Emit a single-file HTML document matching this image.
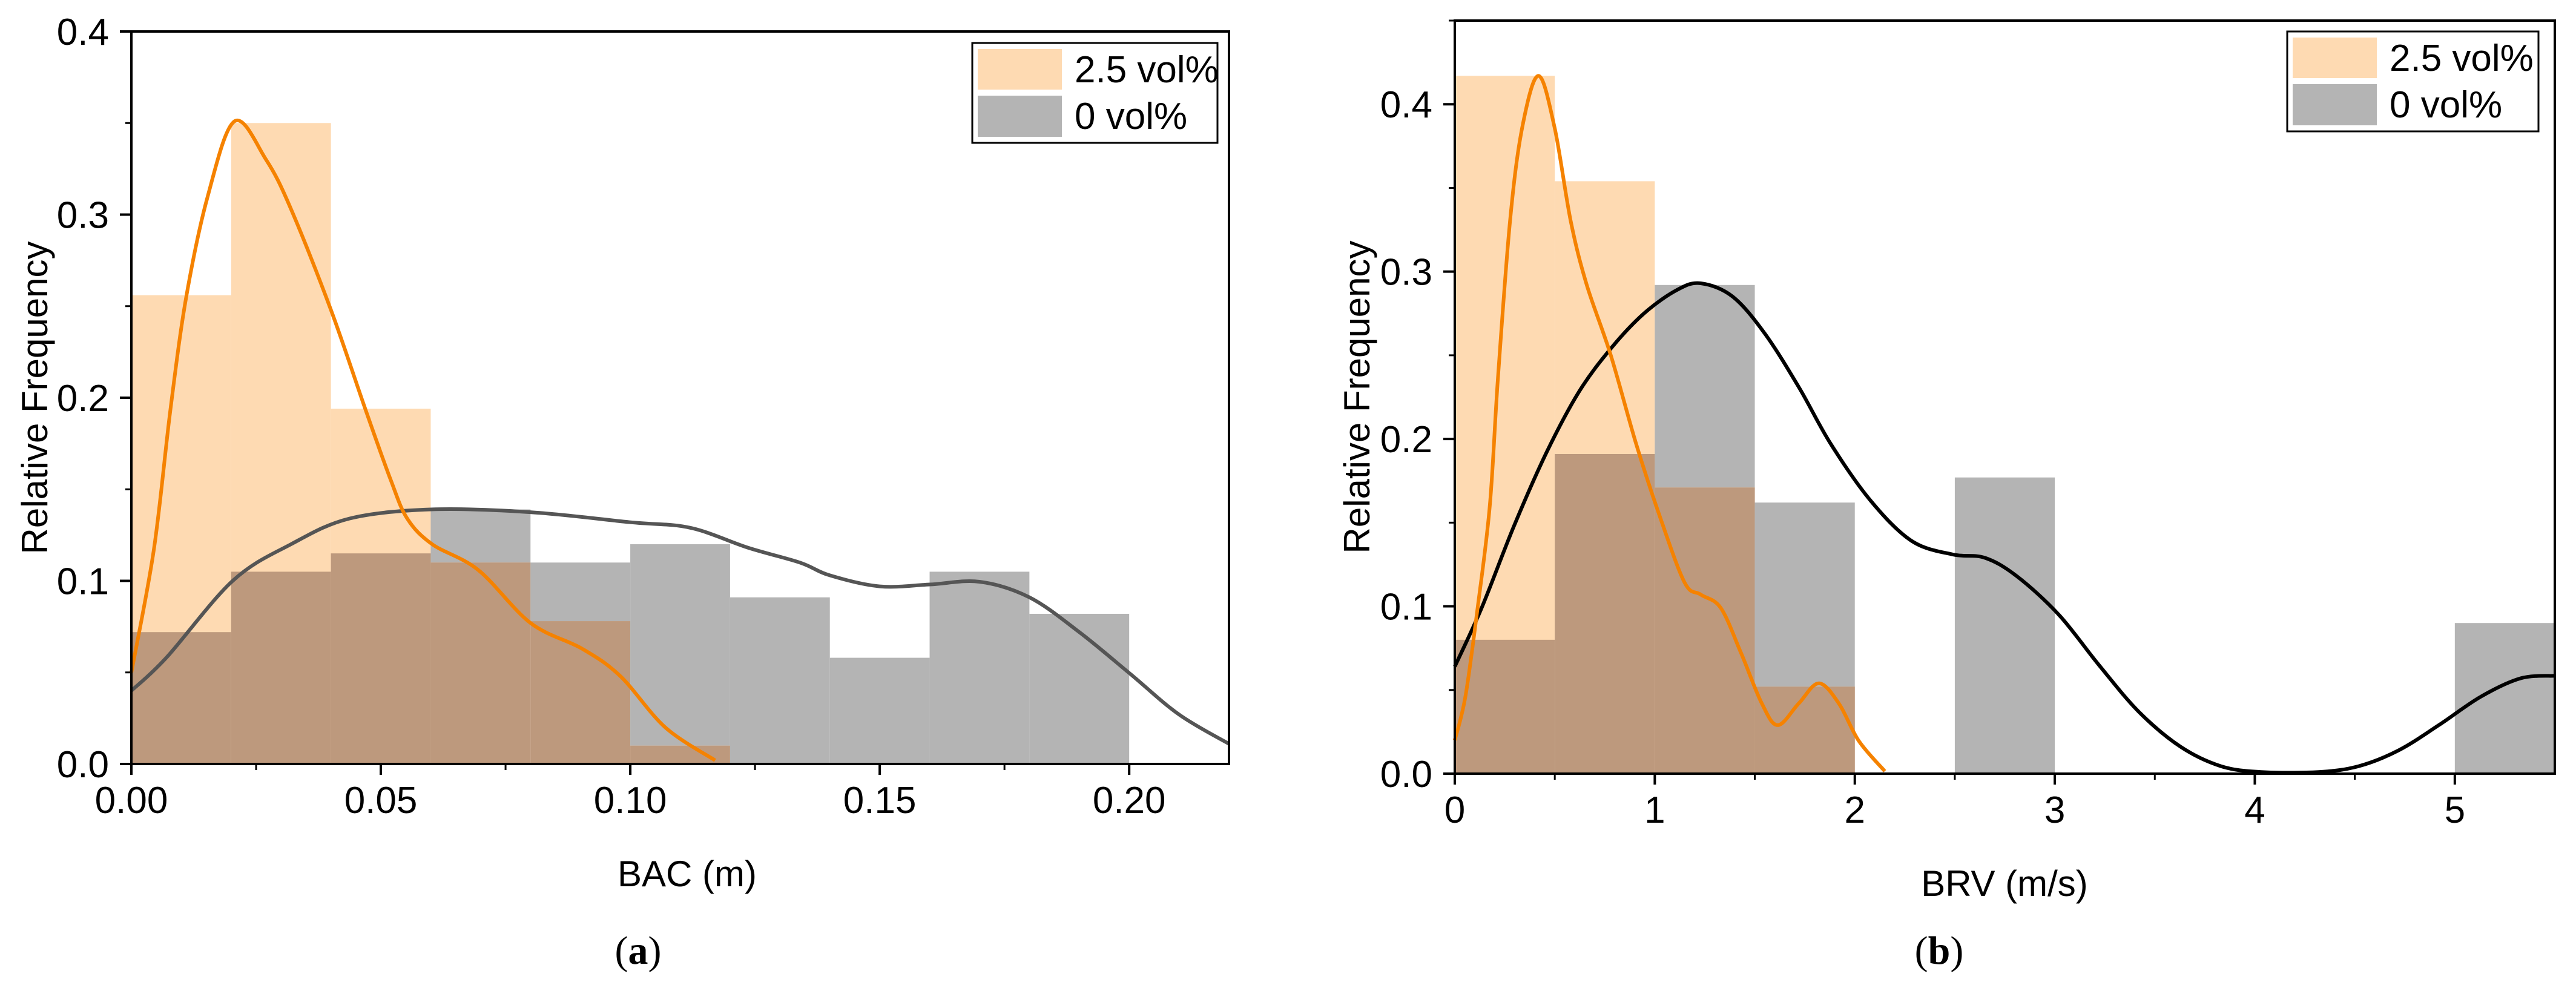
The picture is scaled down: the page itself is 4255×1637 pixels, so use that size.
<!DOCTYPE html>
<html><head><meta charset="utf-8"><style>
html,body{margin:0;padding:0;background:#fff;}
svg{display:block;font-family:"Liberation Sans",sans-serif;}
</style></head><body>
<svg id="fig" width="4255" height="1637" viewBox="0 0 4255 1637" xmlns="http://www.w3.org/2000/svg"></svg>
<script>
// ---- Panel (a) data ----
const aBinEdges = [0,0.02,0.04,0.06,0.08,0.10,0.12,0.14,0.16,0.18,0.20];
const aPeach = [0.256,0.350,0.194,0.110,0.078,0.010,0,0,0,0];
const aGray  = [0.072,0.105,0.115,0.139,0.110,0.120,0.091,0.058,0.105,0.082];
const aOrangeX = [0,0.0045,0.0078,0.011,0.0153,0.0207,0.027,0.032,0.040,0.047,0.052,0.0553,0.0603,0.0695,0.080,0.0903,0.098,0.107,0.117];
const aOrangeY = [0.05,0.117,0.193,0.255,0.31,0.351,0.33,0.303,0.248,0.193,0.155,0.134,0.12,0.106,0.077,0.063,0.048,0.020,0.002];
const aGrayX = [0,0.007,0.0203,0.032,0.0437,0.060,0.080,0.10,0.112,0.1237,0.134,0.14,0.150,0.160,0.170,0.180,0.19,0.2003,0.210,0.22];
const aGrayY = [0.04,0.058,0.10,0.12,0.134,0.139,0.1375,0.132,0.129,0.118,0.11,0.103,0.097,0.098,0.0995,0.091,0.072,0.049,0.027,0.011];
const aXTicks = [0,0.05,0.10,0.15,0.20];
const aXTickLabels = ["0.00","0.05","0.10","0.15","0.20"];
const aYTicks = [0,0.1,0.2,0.3,0.4];
const aYTickLabels = ["0.0","0.1","0.2","0.3","0.4"];
// ---- Panel (b) data ----
const bBinEdges = [0,0.5,1,1.5,2,2.5,3,3.5,4,4.5,5,5.5];
const bPeach = [0.417,0.354,0.171,0.052,0,0,0,0,0,0,0];
const bGray  = [0.080,0.191,0.292,0.162,0,0.177,0,0,0,0,0.090];
const bOrangeX = [0,0.053,0.114,0.175,0.215,0.276,0.337,0.418,0.499,0.58,0.66,0.78,0.907,1.03,1.15,1.23,1.33,1.43,1.535,1.615,1.72,1.82,1.92,2.02,2.15];
const bOrangeY = [0.02,0.046,0.099,0.16,0.235,0.33,0.386,0.417,0.386,0.33,0.292,0.25,0.197,0.152,0.114,0.107,0.099,0.0725,0.042,0.029,0.042,0.054,0.042,0.0196,0.0015];
const bBlackX = [0,0.134,0.296,0.459,0.62,0.78,0.946,1.11,1.23,1.39,1.55,1.72,1.88,2.08,2.285,2.49,2.65,2.81,3.02,3.22,3.42,3.63,3.83,4.03,4.32,4.52,4.72,4.92,5.13,5.33,5.5];
const bBlackY = [0.064,0.099,0.148,0.192,0.228,0.254,0.275,0.289,0.293,0.285,0.263,0.231,0.197,0.163,0.139,0.131,0.129,0.118,0.095,0.065,0.037,0.016,0.0045,0.001,0.001,0.0045,0.014,0.029,0.046,0.057,0.0585];
const bXTicks = [0,1,2,3,4,5];
const bXTickLabels = ["0","1","2","3","4","5"];
const bYTicks = [0,0.1,0.2,0.3,0.4];
const bYTickLabels = ["0.0","0.1","0.2","0.3","0.4"];

const NS = "http://www.w3.org/2000/svg";
const svg = document.getElementById('fig');
function mk(tag, attrs, parent){
  const e = document.createElementNS(NS, tag);
  for (const k in attrs) e.setAttribute(k, attrs[k]);
  (parent||svg).appendChild(e);
  return e;
}
function smoothPath(xs, ys, sx, sy){
  const p = xs.map((x,i)=>[sx(x), sy(ys[i])]);
  let d = "M"+p[0][0].toFixed(1)+","+p[0][1].toFixed(1);
  for (let i=0;i<p.length-1;i++){
    const p0=p[Math.max(0,i-1)], p1=p[i], p2=p[i+1], p3=p[Math.min(p.length-1,i+2)];
    const c1=[p1[0]+(p2[0]-p0[0])/6, p1[1]+(p2[1]-p0[1])/6];
    const c2=[p2[0]-(p3[0]-p1[0])/6, p2[1]-(p3[1]-p1[1])/6];
    d += " C"+c1[0].toFixed(1)+","+c1[1].toFixed(1)+" "+c2[0].toFixed(1)+","+c2[1].toFixed(1)+" "+p2[0].toFixed(1)+","+p2[1].toFixed(1);
  }
  return d;
}

function panel(cfg){
  const g = mk('g', {});
  
  
  const sx = v => cfg.L + (v - cfg.x0)/(cfg.x1 - cfg.x0)*(cfg.R - cfg.L);
  const sy = v => cfg.B - (v - cfg.y0)/(cfg.y1 - cfg.y0)*(cfg.B - cfg.T);
  for (let i=0;i<cfg.edges.length-1;i++){
    const xa = sx(cfg.edges[i]), xb = sx(cfg.edges[i+1]);
    const gv = cfg.gray[i]||0, pv = cfg.peach[i]||0;
    if (gv>0){
      const r = mk('rect',{x:xa,y:sy(gv),width:xb-xa,height:cfg.B-sy(gv),fill:'#b4b4b4'},g);
      
      
    }
    if (pv>0){
      const r = mk('rect',{x:xa,y:sy(pv),width:xb-xa,height:cfg.B-sy(pv),fill:'#fedab2'},g);
      
      
    }
    const m = Math.min(gv,pv);
    if (m>0){
      const r = mk('rect',{x:xa,y:sy(m),width:xb-xa,height:cfg.B-sy(m),fill:'#bd997d'},g);
      
      
    }
  }
  const c1 = mk('path',{d:smoothPath(cfg.gx,cfg.gy,sx,sy),fill:'none',stroke:cfg.gcol,'stroke-width':6,'stroke-linejoin':'round'},g);
  
  
  const c2 = mk('path',{d:smoothPath(cfg.ox,cfg.oy,sx,sy),fill:'none',stroke:'#f58200','stroke-width':6,'stroke-linejoin':'round'},g);
  
  
  const fr = mk('rect',{x:cfg.L,y:cfg.T,width:cfg.R-cfg.L,height:cfg.B-cfg.T,fill:'none',stroke:'#000','stroke-width':4},g);
  
  
  cfg.xt.forEach((v,i)=>{
    const x = sx(v);
    mk('line',{x1:x,y1:cfg.B,x2:x,y2:cfg.B+18,stroke:'#000','stroke-width':4},g);
    const t = mk('text',{x:x,y:cfg.B+81,'font-size':62,'text-anchor':'middle',fill:'#000'},g);
    t.textContent = cfg.xtl[i];
    
    
  });
  for (let v=cfg.x0+cfg.xm; v<cfg.x1-1e-9; v+=cfg.xm*2){
    const x=sx(v); mk('line',{x1:x,y1:cfg.B,x2:x,y2:cfg.B+10,stroke:'#000','stroke-width':3},g);
  }
  cfg.yt.forEach((v,i)=>{
    const y = sy(v);
    mk('line',{x1:cfg.L-19,y1:y,x2:cfg.L,y2:y,stroke:'#000','stroke-width':4},g);
    const t = mk('text',{x:cfg.L-37,y:y+22,'font-size':62,'text-anchor':'end',fill:'#000'},g);
    t.textContent = cfg.ytl[i];
    
    
  });
  for (let v=0.05; v<cfg.y1+1e-9; v+=0.1){
    const y=sy(v); mk('line',{x1:cfg.L-10,y1:y,x2:cfg.L,y2:y,stroke:'#000','stroke-width':3},g);
  }
  const xt = mk('text',{x:cfg.xtx,y:cfg.B+202,'font-size':60,'text-anchor':'middle',fill:'#000'},g);
  xt.textContent = cfg.xtitle;
  
  
  const yt = mk('text',{x:0,y:0,'font-size':60,'text-anchor':'middle',fill:'#000',transform:'translate('+(cfg.ytx)+','+((cfg.T+cfg.B)/2)+') rotate(-90)'},g);
  yt.textContent = 'Relative Frequency';
  
  
  const cap = mk('text',{x:cfg.capx,y:1592,'font-size':66,'text-anchor':'middle',fill:'#000','font-family':'"Liberation Serif",serif'},g);
  cap.innerHTML = '(<tspan font-weight="bold">'+cfg.cap+'</tspan>)';
  
  
  const lg = mk('g',{},g);
  
  
  const lx=cfg.lg[0], ly=cfg.lg[1], lw=cfg.lg[2];
  mk('rect',{x:lx,y:ly,width:lw,height:165,fill:'#fff',stroke:'#000','stroke-width':3},lg);
  mk('rect',{x:lx+9,y:ly+10,width:139,height:67,fill:'#fedab2'},lg);
  mk('rect',{x:lx+9,y:ly+87,width:139,height:68,fill:'#b4b4b4'},lg);
  const t1 = mk('text',{x:lx+169,y:ly+65,'font-size':62,fill:'#000'},lg);
  t1.textContent='2.5 vol%';
  
  
  const t2 = mk('text',{x:lx+169,y:ly+142,'font-size':62,fill:'#000'},lg);
  t2.textContent='0 vol%';
  
  
}

panel({name:'panel-a',L:217,R:2030,T:52,B:1262,x0:0,x1:0.22,y0:0,y1:0.4,xm:0.025,
  edges:aBinEdges,peach:aPeach,gray:aGray,gx:aGrayX,gy:aGrayY,gcol:'#555555',ox:aOrangeX,oy:aOrangeY,
  xt:aXTicks,xtl:aXTickLabels,yt:aYTicks,ytl:aYTickLabels,xtitle:'BAC (m)',xtx:1135,ytx:78,capx:1054,cap:'a',lg:[1606,71,405]});
panel({name:'panel-b',L:2403,R:4220,T:34,B:1278,x0:0,x1:5.5,y0:0,y1:0.45,xm:0.5,
  edges:bBinEdges,peach:bPeach,gray:bGray,gx:bBlackX,gy:bBlackY,gcol:'#000000',ox:bOrangeX,oy:bOrangeY,
  xt:bXTicks,xtl:bXTickLabels,yt:bYTicks,ytl:bYTickLabels,xtitle:'BRV (m/s)',xtx:3311,ytx:2262,capx:3203,cap:'b',lg:[3778,52,415]});
</script>
</body></html>
